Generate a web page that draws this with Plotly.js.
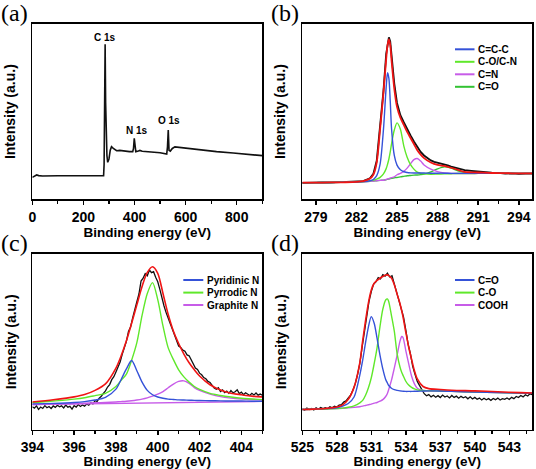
<!DOCTYPE html>
<html><head><meta charset="utf-8">
<script src="https://cdn.plot.ly/plotly-3.0.1.min.js"></script>
<style>html,body{margin:0;padding:0;background:#fff}#plot{width:536px;height:469px}</style>
</head><body><div id="plot"></div>
<script>
// ---------- Panel (a): survey spectrum ----------
const surveyX = [0, 5, 10, 17, 25, 40, 100, 200, 270, 279, 281, 283, 285, 287, 289, 292, 295, 300, 305, 310, 317, 330, 342, 360, 380, 393, 396, 399, 402, 405, 415, 421, 430, 461, 500, 526, 529, 532, 535, 540, 548, 558, 580, 604, 656, 721, 786, 851, 900];
const surveyY = [12.5, 12.8, 13.2, 13.9, 13.5, 13.3, 13.4, 13.4, 13.3, 13.5, 20, 50, 88.4, 55, 35, 25, 21.1, 23, 28, 30.0, 29.1, 27.7, 27.9, 27.4, 27.2, 27.2, 29, 34.8, 29, 27.2, 27.6, 27.9, 27.4, 27.2, 26.6, 25.8, 30, 39.5, 28, 27.5, 29, 29.9, 29.5, 29.1, 28.1, 27.2, 26.4, 25.3, 24.9];
const surveyLabels = ["C 1s", "N 1s", "O 1s"];

// ---------- Panel (b): C 1s ----------
const c1sX = [278, 279, 280, 281, 282, 282.5, 283, 283.25, 283.5, 283.75, 284, 284.2, 284.3, 284.4, 284.5, 284.6, 284.8, 285, 285.25, 285.5, 285.75, 286, 286.25, 286.5, 286.75, 287, 287.5, 288, 288.5, 289, 289.5, 290, 290.5, 291, 292, 293, 294, 295];
const c1sRawX = [278, 278.5, 279, 279.5, 280, 280.5, 281, 281.5, 282, 282.5, 283, 283.25, 283.5, 283.75, 284, 284.2, 284.3, 284.4, 284.5, 284.6, 284.8, 285, 285.25, 285.5, 285.75, 286, 286.25, 286.5, 286.75, 287, 287.25, 287.5, 287.75, 288, 288.25, 288.5, 288.75, 289, 289.5, 290, 290.5, 291, 291.5, 292, 292.5, 293, 293.5, 294, 294.5, 295];
const c1sRaw = [9.3, 9.5, 9.4, 9.6, 9.5, 9.7, 9.6, 9.8, 9.9, 10.4, 12.0, 14.5, 22, 40, 62, 83, 89.5, 92.4, 90, 81, 66, 55, 48, 44, 40, 36.5, 33, 30, 27, 25, 23.5, 22.2, 21.4, 21.0, 20.6, 20.1, 19.4, 18.7, 17.6, 16.6, 16.2, 15.8, 15.5, 15.2, 15.1, 14.6, 14.8, 14.5, 14.7, 14.6];
const c1sEnvelope = [9.5, 9.5, 9.6, 9.7, 9.9, 10.3, 11.8, 14, 21, 40, 61, 80, 88, 91.3, 88, 79, 63, 52.7, 46.5, 42.5, 38.5, 35, 31.5, 28, 25.5, 23.5, 21, 19.6, 19.0, 18.0, 16.8, 15.6, 15.4, 15.3, 15.0, 14.9, 14.8, 14.8];
const cCC = [9.5, 9.5, 9.6, 9.7, 9.9, 10.1, 10.6, 11.3, 13.5, 20, 40, 64, 72.2, 69, 56, 40, 25, 19.5, 16.8, 15.7, 15.3, 15.1, 15.0, 15.0, 15.0, 15.0, 14.9, 14.9, 14.9, 14.8, 14.8, 14.8, 14.8, 14.8, 14.8, 14.8, 14.8, 14.8];
const cCO_CN = [9.5, 9.5, 9.6, 9.7, 9.9, 10.1, 10.5, 10.9, 11.5, 12.5, 14.5, 17.5, 20, 23, 27, 31.8, 39.5, 43.6, 40, 30.5, 24, 19.8, 17.2, 15.5, 14.8, 14.5, 14.3, 14.4, 14.5, 14.6, 14.7, 14.7, 14.7, 14.8, 14.8, 14.8, 14.8, 14.8];
const cCN = [9.5, 9.5, 9.6, 9.7, 9.9, 10.0, 10.2, 10.4, 10.6, 10.8, 10.9, 11.3, 11.6, 11.8, 12.1, 12.4, 12.8, 14.0, 14.8, 16.0, 17.8, 20.3, 22.6, 23.3, 21.8, 19.6, 17.2, 15.8, 15.0, 14.7, 14.7, 14.7, 14.7, 14.8, 14.8, 14.8, 14.8, 14.8];
const cCdO = [9.5, 9.5, 9.6, 9.7, 9.9, 10.0, 10.2, 10.4, 10.6, 10.8, 10.9, 11.2, 11.4, 11.6, 11.8, 12.0, 12.3, 12.4, 12.8, 13.1, 13.4, 13.6, 13.8, 13.9, 14.1, 14.4, 15.6, 17.4, 18.5, 17.8, 16.3, 15.3, 14.9, 14.8, 14.8, 14.8, 14.8, 14.8];
const c1sNames = ["C=C-C", "C-O/C-N", "C=N", "C=O"];

// ---------- Panel (c): N 1s ----------
const n1sX = [394, 395, 396, 396.5, 397, 397.5, 398, 398.25, 398.5, 398.75, 399, 399.25, 399.5, 399.75, 400, 400.25, 400.5, 400.75, 401, 401.25, 401.5, 401.75, 402, 402.5, 403, 403.5, 404, 404.5, 405];
const n1sEnvelope = [15.7, 17.0, 18.6, 19.9, 22.3, 26.0, 35.0, 42, 50.5, 60.5, 71, 81.5, 89.5, 92.7, 89, 77.5, 65.5, 56, 49, 43, 38, 34, 30.5, 25.5, 22.5, 20.7, 19.8, 19.0, 18.6];
const nPyridinic = [14.6, 14.9, 15.4, 15.9, 16.8, 18.3, 23.0, 28.5, 34.5, 39.3, 33.5, 27, 22.3, 19.8, 18.5, 17.8, 17.3, 17.1, 16.9, 16.8, 16.7, 16.6, 16.5, 16.4, 16.3, 16.2, 16.2, 16.1, 16.1];
const nPyrrolic = [15.2, 16.2, 17.3, 18.1, 19.3, 20.6, 24.5, 28.0, 31.5, 39.5, 49.5, 65, 77.5, 83.7, 74, 59, 46.5, 39.8, 34, 30, 27, 24.5, 22.8, 20.6, 19.4, 18.5, 17.8, 17.4, 17.0];
const nGraphite = [14.2, 14.5, 14.8, 15.0, 15.2, 15.4, 15.7, 15.9, 16.1, 16.4, 16.8, 17.3, 18.0, 19.0, 20.1, 21.6, 23.8, 25.9, 27.4, 27.7, 26.3, 23.9, 22.3, 20.2, 18.7, 17.9, 17.4, 17.1, 16.9];
const n1sBaseX = [394, 405];
const n1sBase = [14.2, 16.0];
const n1sRawX = [394.0, 394.1, 394.2, 394.3, 394.4, 394.5, 394.6, 394.7, 394.8, 394.9, 395.0, 395.1, 395.2, 395.3, 395.4, 395.5, 395.6, 395.7, 395.8, 395.9, 396.0, 396.1, 396.2, 396.3, 396.4, 396.5, 396.6, 396.7, 396.8, 396.9, 397.0, 397.1, 397.2, 397.3, 397.4, 397.5, 397.6, 397.7, 397.8, 397.9, 398.0, 398.1, 398.2, 398.3, 398.4, 398.5, 398.6, 398.7, 398.8, 398.9, 399.0, 399.1, 399.2, 399.3, 399.4, 399.5, 399.6, 399.7, 399.8, 399.9, 400.0, 400.1, 400.2, 400.3, 400.4, 400.5, 400.6, 400.7, 400.8, 400.9, 401.0, 401.1, 401.2, 401.3, 401.4, 401.5, 401.6, 401.7, 401.8, 401.9, 402.0, 402.1, 402.2, 402.3, 402.4, 402.5, 402.6, 402.7, 402.8, 402.9, 403.0, 403.1, 403.2, 403.3, 403.4, 403.5, 403.6, 403.7, 403.8, 403.9, 404.0, 404.1, 404.2, 404.3, 404.4, 404.5, 404.6, 404.7, 404.8, 404.9, 405.0];
const n1sRaw = [13.0, 12.2, 13.5, 11.4, 12.8, 12.0, 13.6, 12.4, 13.1, 12.0, 13.4, 12.6, 13.8, 12.9, 13.5, 12.3, 13.9, 12.7, 13.2, 11.6, 13.6, 12.8, 14.2, 13.1, 14.0, 13.3, 14.5, 13.8, 15.2, 14.6, 16.4, 16.0, 17.8, 18.9, 20.6, 22.0, 24.2, 25.6, 28.4, 30.1, 32.8, 35.4, 38.5, 42.8, 46.0, 50.2, 55.8, 58.4, 63.6, 67.5, 72.8, 77.2, 84.6, 86.2, 88.8, 87.6, 90.9, 89.4, 89.9, 86.8, 84.2, 79.8, 74.5, 70.4, 66.6, 62.8, 60.2, 57.1, 53.5, 50.0, 47.6, 46.8, 45.2, 44.6, 42.5, 42.0, 39.4, 37.2, 35.0, 34.2, 32.1, 31.2, 29.6, 28.9, 27.4, 26.8, 25.1, 23.6, 22.9, 23.8, 21.6, 22.5, 21.0, 21.9, 20.6, 22.2, 20.9, 21.5, 22.6, 20.5, 21.3, 19.8, 20.9, 20.1, 19.4, 20.6, 19.7, 20.8, 19.6, 20.2, 19.5];
const n1sNames = ["Pyridinic N", "Pyrrodic N", "Graphite N"];

// ---------- Panel (d): O 1s ----------
const o1sX = [525, 526, 527, 528, 528.5, 529, 529.5, 530, 530.25, 530.5, 530.75, 531, 531.25, 531.5, 531.75, 532, 532.25, 532.4, 532.5, 532.75, 533, 533.25, 533.5, 533.65, 533.75, 534, 534.25, 534.5, 534.75, 535, 535.5, 536, 537, 538, 540, 542, 544, 545];
const o1sEnvelope = [11.4, 11.6, 12.0, 12.8, 14.0, 17.2, 24.0, 38, 50.5, 62, 72.2, 79.5, 83.3, 85.0, 86.2, 87.2, 88.0, 88.1, 87.8, 86.3, 82.5, 77, 71.5, 67.5, 64.5, 55.5, 47, 40, 33.5, 28.8, 24.5, 23.3, 22.8, 22.4, 22.0, 21.5, 21.0, 20.8];
const oCdO = [11.4, 11.6, 11.9, 12.4, 13.3, 14.8, 18.5, 31, 39.5, 49.5, 58.5, 64.3, 60.5, 52, 42.5, 34.5, 28.5, 26.5, 25.2, 23.5, 22.7, 22.3, 22.0, 21.9, 21.8, 21.7, 21.7, 21.7, 21.8, 21.8, 21.9, 22.0, 21.9, 21.7, 21.3, 21.0, 20.7, 20.6];
const oCO = [11.4, 11.5, 11.6, 11.9, 12.2, 12.7, 13.5, 15.2, 16.6, 19.5, 23.8, 29.5, 37.5, 46.5, 58.5, 68.5, 73.8, 74.4, 73.2, 65, 56, 43, 35.5, 32.5, 31, 27.5, 25.3, 24.0, 23.1, 22.6, 22.2, 22.1, 21.9, 21.7, 21.3, 21.0, 20.7, 20.6];
const oCOOH = [11.4, 11.5, 11.6, 11.9, 12.1, 12.3, 12.6, 13.0, 13.3, 13.7, 14.1, 14.5, 15.0, 15.4, 16.1, 17.0, 18.8, 20.5, 22.5, 28, 35, 42.5, 50.5, 53.0, 52.5, 45, 37.5, 30.5, 26, 23.5, 22.2, 21.9, 21.9, 21.7, 21.3, 21.0, 20.7, 20.6];
const o1sRawX = [525.0, 525.2, 525.4, 525.6, 525.8, 526.0, 526.2, 526.4, 526.6, 526.8, 527.0, 527.2, 527.4, 527.6, 527.8, 528.0, 528.2, 528.4, 528.6, 528.8, 529.0, 529.2, 529.4, 529.6, 529.8, 530.0, 530.2, 530.4, 530.6, 530.8, 531.0, 531.2, 531.4, 531.6, 531.8, 532.0, 532.2, 532.4, 532.6, 532.8, 533.0, 533.2, 533.4, 533.6, 533.8, 534.0, 534.2, 534.4, 534.6, 534.8, 535.0, 535.2, 535.4, 535.6, 535.8, 536.0, 536.2, 536.4, 536.6, 536.8, 537.0, 537.2, 537.4, 537.6, 537.8, 538.0, 538.2, 538.4, 538.6, 538.8, 539.0, 539.2, 539.4, 539.6, 539.8, 540.0, 540.2, 540.4, 540.6, 540.8, 541.0, 541.2, 541.4, 541.6, 541.8, 542.0, 542.2, 542.4, 542.6, 542.8, 543.0, 543.2, 543.4, 543.6, 543.8, 544.0, 544.2, 544.4, 544.6, 544.8, 545.0];
const o1sRaw = [11.8, 11.0, 12.2, 11.4, 12.0, 11.2, 12.3, 11.5, 12.5, 11.9, 12.4, 11.8, 12.9, 12.3, 13.2, 12.8, 13.9, 14.2, 15.6, 16.3, 18.0, 19.6, 22.4, 26.0, 31.2, 37.5, 46.8, 55.6, 65.3, 73.0, 78.6, 82.9, 84.1, 86.5, 85.8, 88.2, 87.4, 89.1, 86.9, 87.6, 83.0, 78.4, 74.8, 68.9, 64.2, 56.8, 48.6, 43.2, 36.0, 31.5, 27.4, 25.0, 22.9, 20.4, 19.2, 19.9, 18.6, 19.5, 18.4, 19.3, 18.2, 19.6, 18.5, 19.1, 18.0, 19.4, 18.3, 19.0, 17.8, 18.9, 18.1, 18.7, 17.5, 18.6, 17.4, 18.3, 17.2, 17.9, 16.8, 17.8, 16.9, 17.6, 16.6, 17.7, 17.0, 17.9, 16.8, 17.6, 17.2, 18.0, 17.1, 18.3, 17.6, 18.8, 18.2, 19.4, 18.6, 19.8, 19.1, 20.3, 19.8];
const o1sNames = ["C=O", "C-O", "COOH"];

// ---------- styling ----------
const BLUE = '#3552d8', GREEN = '#5fe82a', VIOLET = '#c75ce8', GREEN2 = '#33c233', RED = '#f01414', BLACK = '#111111';
const FONT = 'Liberation Sans, Arial, Helvetica, sans-serif';
const W = 536, H = 469;
const px = v => v / W, py = v => 1 - v / H;

function line(x, y, color, width, xa, ya, shape) {
  return {x: x, y: y, type: 'scatter', mode: 'lines', xaxis: xa, yaxis: ya, showlegend: false,
          hoverinfo: 'skip', line: {color: color, width: width, shape: shape || 'spline', smoothing: 0.8}};
}

const traces = [
  line(surveyX, surveyY, BLACK, 1.6, 'x', 'y', 'linear'),

  line(c1sRawX, c1sRaw, BLACK, 1.8, 'x2', 'y2', 'linear'),
  line(c1sX, cCdO, GREEN2, 1.4, 'x2', 'y2'),
  line(c1sX, cCN, VIOLET, 1.4, 'x2', 'y2'),
  line(c1sX, cCO_CN, GREEN, 1.4, 'x2', 'y2'),
  line(c1sX, cCC, BLUE, 1.4, 'x2', 'y2'),
  line(c1sX, c1sEnvelope, RED, 1.8, 'x2', 'y2'),

  line(n1sRawX, n1sRaw, BLACK, 1.3, 'x3', 'y3', 'linear'),
  line(n1sBaseX, n1sBase, VIOLET, 1.4, 'x3', 'y3', 'linear'),
  line(n1sX, nGraphite, VIOLET, 1.4, 'x3', 'y3'),
  line(n1sX, nPyrrolic, GREEN, 1.4, 'x3', 'y3'),
  line(n1sX, nPyridinic, BLUE, 1.4, 'x3', 'y3'),
  line(n1sX, n1sEnvelope, RED, 1.6, 'x3', 'y3'),

  line(o1sRawX, o1sRaw, BLACK, 1.3, 'x4', 'y4', 'linear'),
  line(o1sX, oCOOH, VIOLET, 1.4, 'x4', 'y4'),
  line(o1sX, oCO, GREEN, 1.4, 'x4', 'y4'),
  line(o1sX, oCdO, BLUE, 1.4, 'x4', 'y4'),
  line(o1sX, o1sEnvelope, RED, 1.6, 'x4', 'y4')
];

const colL = [32.3 / W, 262.3 / W], colR = [302.3 / W, 532.3 / W];
const rowT = [py(199.3), py(24)], rowB = [py(429.5), py(254)];

function xaxis(domain, range, tick0, dtick, mdtick, anchor) {
  return {domain: domain, range: range, anchor: anchor, tick0: tick0, dtick: dtick,
    showline: true, mirror: true, linecolor: '#000', linewidth: 1.8, zeroline: false, showgrid: false,
    ticks: 'outside', ticklen: 4, tickwidth: 1.5, tickcolor: '#000',
    minor: {dtick: mdtick, tick0: tick0, ticks: 'outside', ticklen: 3, tickwidth: 1.2, tickcolor: '#000', showgrid: false},
    tickfont: {family: FONT, size: 14, weight: 'bold', color: '#000'},
    title: {text: 'Binding energy (eV)', font: {family: FONT, size: 13.5, weight: 'bold', color: '#000'}, standoff: 4}};
}
function yaxis(domain, anchor) {
  return {domain: domain, range: [0, 100], anchor: anchor, showline: true, mirror: true, linecolor: '#000', linewidth: 1.8,
    zeroline: false, showgrid: false, ticks: '', showticklabels: false,
    title: {text: 'Intensity (a.u.)', font: {family: FONT, size: 14, weight: 'bold', color: '#000'}, standoff: 11}};
}

const annotations = [];
const shapes = [];
function panelLabel(t, x, y) {
  annotations.push({text: t, xref: 'paper', yref: 'paper', x: px(x), y: py(y), xanchor: 'left', yanchor: 'middle',
    showarrow: false, font: {family: 'Liberation Serif, DejaVu Serif, serif', size: 24, color: '#000'}});
}
panelLabel('(a)', -1, 13);
panelLabel('(b)', 269, 13);
panelLabel('(c)', -1, 243);
panelLabel('(d)', 269, 243);

// peak labels on survey
const peakPos = [[285, 92.5], [408, 39], [535, 45]];
surveyLabels.forEach((t, i) => annotations.push({text: t, xref: 'x', yref: 'y', x: peakPos[i][0], y: peakPos[i][1],
  showarrow: false, xanchor: 'center', yanchor: 'middle', font: {family: FONT, size: 10, weight: 'bold', color: '#000'}}));

// custom legends (line swatch + label)
function legend(names, colors, x0, x1, ys) {
  names.forEach((n, i) => {
    shapes.push({type: 'line', xref: 'paper', yref: 'paper', x0: px(x0), x1: px(x1), y0: py(ys[i]), y1: py(ys[i]),
      line: {color: colors[i], width: 2}});
    annotations.push({text: n, xref: 'paper', yref: 'paper', x: px(x1 + 1.5), y: py(ys[i]), xanchor: 'left', yanchor: 'middle',
      showarrow: false, font: {family: FONT, size: 10, weight: 'bold', color: '#000'}});
  });
}
legend(c1sNames, [BLUE, GREEN, VIOLET, GREEN2], 455, 474.5, [49.3, 61.8, 74.3, 86.8]);
legend(n1sNames, [BLUE, GREEN, VIOLET], 183.3, 203.3, [280, 292.6, 305]);
legend(o1sNames, [BLUE, GREEN, VIOLET], 455, 474.5, [280, 292.6, 305]);

const layout = {
  width: W, height: H, margin: {l: 0, r: 0, t: 0, b: 0}, paper_bgcolor: '#fff', plot_bgcolor: '#fff',
  showlegend: false, font: {family: FONT, color: '#000'},
  xaxis: xaxis(colL, [0, 900], 0, 200, 100, 'y'),
  yaxis: yaxis(rowT, 'x'),
  xaxis2: xaxis(colR, [278, 295], 279, 3, 1.5, 'y2'),
  yaxis2: yaxis(rowT, 'x2'),
  xaxis3: xaxis(colL, [394, 405], 394, 2, 1, 'y3'),
  yaxis3: yaxis(rowB, 'x3'),
  xaxis4: xaxis(colR, [525, 545], 525, 3, 1.5, 'y4'),
  yaxis4: yaxis(rowB, 'x4'),
  annotations: annotations, shapes: shapes
};
Plotly.newPlot('plot', traces, layout, {staticPlot: true, displayModeBar: false});
</script></body></html>
